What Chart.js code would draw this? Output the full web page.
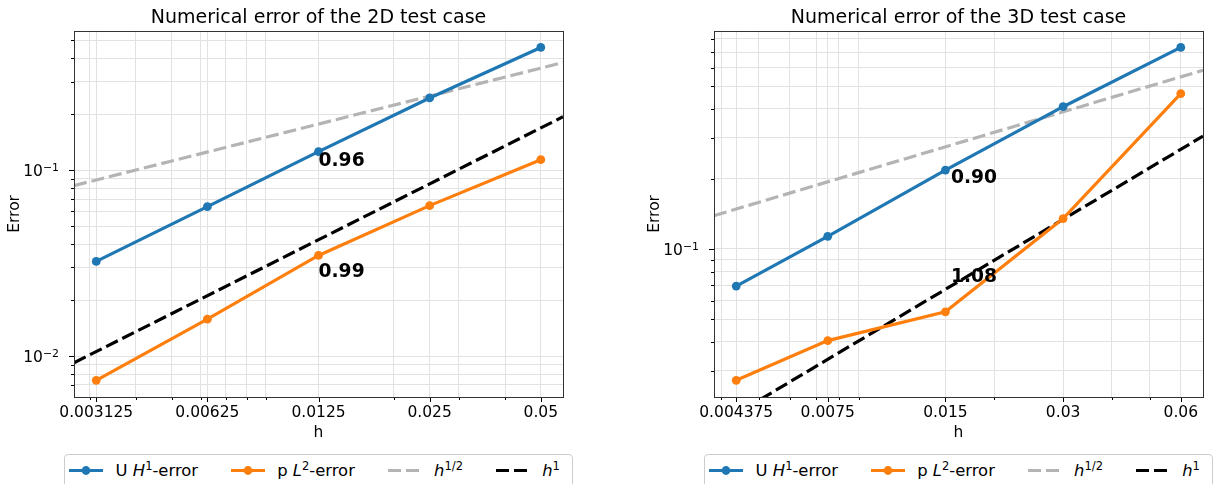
<!DOCTYPE html>
<html>
<head>
<meta charset="utf-8">
<script src="https://cdn.jsdelivr.net/npm/chart.js@4.4.0/dist/chart.umd.min.js"></script>
<style>
  body { margin: 0; background: #fff; font-family: 'DejaVu Sans', sans-serif; }
  #page { position: relative; width: 1214px; height: 484px; overflow: hidden; }
  .plot { position: absolute; top: 0; }
  .legend {
    position: absolute; top: 454px; width: 509px; height: 44px;
    box-sizing: border-box; border: 1px solid #cccccc; border-radius: 4px;
    padding: 6px 0 0 4px; display: flex; align-items: flex-start;
    font-size: 16.4px; line-height: 19px; color: #000; background: #fff;
  }
  .item { display: flex; align-items: center; margin-right: 32.6px; white-space: nowrap; }
  .item svg { width: 34px; height: 19px; margin-right: 12.6px; }
  .item sup { font-size: 0.7em; line-height: 0; vertical-align: 0.5em; font-style: normal; }
</style>
</head>
<body>
<div id="page">
  <div class="plot" style="left:0px"><canvas id="chart2d" width="607" height="445"></canvas></div>
  <div class="plot" style="left:607px"><canvas id="chart3d" width="607" height="445"></canvas></div>

  <div class="legend" style="left:64px">
    <div class="item"><svg viewBox="0 0 34 19"><line x1="0" y1="9.5" x2="34" y2="9.5" stroke="#1f77b4" stroke-width="3.2"/><circle cx="17" cy="9.5" r="4.4" fill="#1f77b4"/></svg><span>U <i>H</i><sup>1</sup>-error</span></div>
    <div class="item"><svg viewBox="0 0 34 19"><line x1="0" y1="9.5" x2="34" y2="9.5" stroke="#ff7f0e" stroke-width="3.2"/><circle cx="17" cy="9.5" r="4.4" fill="#ff7f0e"/></svg><span>p <i>L</i><sup>2</sup>-error</span></div>
    <div class="item"><svg viewBox="0 0 34 19"><line x1="0" y1="9.5" x2="34" y2="9.5" stroke="#b4b4b4" stroke-width="3.2" stroke-dasharray="13 5"/></svg><span><i>h</i><sup>1/2</sup></span></div>
    <div class="item"><svg viewBox="0 0 34 19"><line x1="0" y1="9.5" x2="34" y2="9.5" stroke="#000" stroke-width="3.2" stroke-dasharray="13 5"/></svg><span><i>h</i><sup>1</sup></span></div>
  </div>
  <div class="legend" style="left:704px">
    <div class="item"><svg viewBox="0 0 34 19"><line x1="0" y1="9.5" x2="34" y2="9.5" stroke="#1f77b4" stroke-width="3.2"/><circle cx="17" cy="9.5" r="4.4" fill="#1f77b4"/></svg><span>U <i>H</i><sup>1</sup>-error</span></div>
    <div class="item"><svg viewBox="0 0 34 19"><line x1="0" y1="9.5" x2="34" y2="9.5" stroke="#ff7f0e" stroke-width="3.2"/><circle cx="17" cy="9.5" r="4.4" fill="#ff7f0e"/></svg><span>p <i>L</i><sup>2</sup>-error</span></div>
    <div class="item"><svg viewBox="0 0 34 19"><line x1="0" y1="9.5" x2="34" y2="9.5" stroke="#b4b4b4" stroke-width="3.2" stroke-dasharray="13 5"/></svg><span><i>h</i><sup>1/2</sup></span></div>
    <div class="item"><svg viewBox="0 0 34 19"><line x1="0" y1="9.5" x2="34" y2="9.5" stroke="#000" stroke-width="3.2" stroke-dasharray="13 5"/></svg><span><i>h</i><sup>1</sup></span></div>
  </div>
</div>

<script>
// 2D test case
const h2D = [0.003125, 0.00625, 0.0125, 0.025, 0.05];
const hLabels2D = ['0.003125', '0.00625', '0.0125', '0.025', '0.05'];
const uErr2D = [0.0323, 0.0637, 0.126, 0.245, 0.458];
const pErr2D = [0.0074, 0.0158, 0.0348, 0.0645, 0.114];
const refH2D = [0.00272, 0.05743];
const halfRef2D = [0.0827, 0.380];
const oneRef2D = [0.0092, 0.194];
const rateText2D = ['0.96', '0.99'];
const rateH2D = [0.0125, 0.0125];
const rateErr2D = [0.112, 0.0283];
const xMinor2D = [0.003, 0.004, 0.005, 0.006, 0.007, 0.008, 0.009, 0.02, 0.03, 0.04];
const yMajor2D = [0.01, 0.1];
const yExp2D = ['\u22122', '\u22121'];
const yMinor2D = [0.007, 0.008, 0.009, 0.02, 0.03, 0.04, 0.05, 0.06, 0.07, 0.08, 0.09, 0.2, 0.3, 0.4, 0.5];
const yRange2D = [0.00602, 0.563];

// 3D test case
const h3D = [0.004375, 0.0075, 0.015, 0.03, 0.06];
const hLabels3D = ['0.004375', '0.0075', '0.015', '0.03', '0.06'];
const uErr3D = [0.0693, 0.1133, 0.218, 0.408, 0.733];
const pErr3D = [0.0273, 0.0404, 0.0537, 0.135, 0.464];
const refH3D = [0.003838, 0.06839];
const halfRef3D = [0.139, 0.585];
const oneRef3D = [0.0172, 0.305];
const rateText3D = ['0.90', '1.08'];
const rateH3D = [0.0155, 0.0155];
const rateErr3D = [0.2013, 0.0753];
const xMinor3D = [0.004, 0.005, 0.006, 0.007, 0.008, 0.009, 0.02, 0.04, 0.05];
const yMajor3D = [0.1];
const yExp3D = ['\u22121'];
const yMinor3D = [0.03, 0.04, 0.05, 0.06, 0.07, 0.08, 0.09, 0.2, 0.3, 0.4, 0.5, 0.6, 0.7, 0.8];
const yRange3D = [0.02314, 0.864];

Chart.defaults.font.family = "'DejaVu Sans'";
Chart.defaults.color = '#000';

const gridColor = '#e2e2e2';

// bold convergence rates next to the points
const rateLabels = {
  id: 'rateLabels',
  afterDatasetsDraw(chart, args, opts) {
    const { ctx, scales: { x, y } } = chart;
    ctx.save();
    ctx.font = 'bold 18.7px "DejaVu Sans"';
    ctx.fillStyle = '#000';
    ctx.textAlign = 'left';
    ctx.textBaseline = 'middle';
    opts.text.forEach((t, i) => {
      ctx.fillText(t, x.getPixelForValue(opts.h[i]), y.getPixelForValue(opts.err[i]));
    });
    ctx.restore();
  }
};

// axes box, major/minor tick marks and 10^k labels (matplotlib style)
const axesFrame = {
  id: 'axesFrame',
  afterDraw(chart, args, opts) {
    const { ctx, chartArea: a, scales: { x, y } } = chart;
    ctx.save();
    ctx.strokeStyle = '#000';
    ctx.lineWidth = 1;
    ctx.beginPath();
    x.ticks.forEach(t => {
      const px = Math.round(x.getPixelForValue(t.value)) + 0.5;
      ctx.moveTo(px, a.bottom);
      ctx.lineTo(px, a.bottom + (t.major ? 5 : 3));
    });
    y.ticks.forEach(t => {
      const py = Math.round(y.getPixelForValue(t.value)) + 0.5;
      ctx.moveTo(a.left, py);
      ctx.lineTo(a.left - (t.major ? 5 : 3), py);
    });
    ctx.stroke();
    ctx.strokeStyle = '#333';
    ctx.strokeRect(Math.round(a.left) + 0.5, Math.round(a.top) + 0.5,
      Math.round(a.right - a.left), Math.round(a.bottom - a.top));

    // y labels as 10 with a raised exponent
    ctx.fillStyle = '#000';
    ctx.textBaseline = 'alphabetic';
    ctx.textAlign = 'left';
    opts.majors.forEach((v, i) => {
      const py = y.getPixelForValue(v);
      const base = py + 5.6;
      ctx.font = '15.5px "DejaVu Sans"';
      const w10 = ctx.measureText('10').width;
      ctx.font = '10.9px "DejaVu Sans"';
      const wExp = ctx.measureText(opts.exps[i]).width;
      const x0 = a.left - 15 - w10 - wExp;
      ctx.font = '15.5px "DejaVu Sans"';
      ctx.fillText('10', x0, base);
      ctx.font = '10.9px "DejaVu Sans"';
      ctx.fillText(opts.exps[i], x0 + w10, base - 5);
    });
    ctx.restore();
  }
};

function points(xs, ys) {
  return xs.map((v, i) => ({ x: v, y: ys[i] }));
}

function tickList(majors, minors) {
  return majors.map(v => ({ value: v, major: true }))
    .concat(minors.map(v => ({ value: v, major: false })))
    .sort((a, b) => a.value - b.value);
}

function labelFor(value, majors, labels) {
  const i = majors.findIndex(m => Math.abs(m - value) / m < 1e-6);
  return i >= 0 ? labels[i] : '';
}

function makeChart(id, d) {
  return new Chart(document.getElementById(id), {
    type: 'line',
    data: {
      datasets: [
        { data: points(d.h, d.u), borderColor: '#1f77b4', backgroundColor: '#1f77b4',
          borderWidth: 3.2, pointRadius: 4.4, pointBorderWidth: 0, pointBackgroundColor: '#1f77b4' },
        { data: points(d.h, d.p), borderColor: '#ff7f0e', backgroundColor: '#ff7f0e',
          borderWidth: 3.2, pointRadius: 4.4, pointBorderWidth: 0, pointBackgroundColor: '#ff7f0e' },
        { data: points(d.refH, d.half), borderColor: '#b4b4b4', borderWidth: 3.2,
          borderDash: [13, 5], pointRadius: 0 },
        { data: points(d.refH, d.one), borderColor: '#000', borderWidth: 3.2,
          borderDash: [13, 5], pointRadius: 0 }
      ]
    },
    options: {
      responsive: false,
      animation: false,
      events: [],
      layout: { padding: { left: 0, right: d.padRight, top: 0, bottom: 0 } },
      plugins: {
        legend: { display: false },
        tooltip: { enabled: false },
        title: {
          display: true, text: d.title, fullSize: false,
          font: { size: 19, weight: 'normal' }, color: '#000',
          padding: { top: 7, bottom: 1 }
        },
        rateLabels: { text: d.rateText, h: d.rateH, err: d.rateErr },
        axesFrame: { majors: d.yMajor, exps: d.yExp }
      },
      scales: {
        x: {
          type: 'logarithmic', bounds: 'data',
          min: d.refH[0], max: d.refH[1],
          afterBuildTicks: s => { s.ticks = tickList(d.h, d.xMinor); },
          afterFit: s => { s.height = 48; },
          ticks: {
            autoSkip: false, maxRotation: 0, padding: 6.5,
            font: { size: 15.5 }, color: '#000',
            callback: v => labelFor(v, d.h, d.hLabels)
          },
          grid: { color: gridColor, lineWidth: 1, drawTicks: false },
          border: { display: false },
          title: { display: true, text: 'h', font: { size: 15.5 }, color: '#000',
            padding: { top: 0, bottom: 2.7 } }
        },
        y: {
          type: 'logarithmic', bounds: 'data',
          min: d.yRange[0], max: d.yRange[1],
          afterBuildTicks: s => { s.ticks = tickList(d.yMajor, d.yMinor); },
          afterFit: s => { s.width = d.yWidth; },
          ticks: { autoSkip: false, padding: 15, callback: () => '' },
          grid: { color: gridColor, lineWidth: 1, drawTicks: false },
          border: { display: false },
          title: { display: true, text: 'Error', font: { size: 15.5 }, color: '#000',
            padding: { top: d.yTitlePad, bottom: 0 } }
        }
      }
    },
    plugins: [rateLabels, axesFrame]
  });
}

makeChart('chart2d', {
  title: 'Numerical error of the 2D test case',
  h: h2D, hLabels: hLabels2D, u: uErr2D, p: pErr2D,
  refH: refH2D, half: halfRef2D, one: oneRef2D,
  rateText: rateText2D, rateH: rateH2D, rateErr: rateErr2D,
  xMinor: xMinor2D, yMajor: yMajor2D, yExp: yExp2D, yMinor: yMinor2D, yRange: yRange2D,
  yWidth: 74, yTitlePad: 5.7, padRight: 44
});

makeChart('chart3d', {
  title: 'Numerical error of the 3D test case',
  h: h3D, hLabels: hLabels3D, u: uErr3D, p: pErr3D,
  refH: refH3D, half: halfRef3D, one: oneRef3D,
  rateText: rateText3D, rateH: rateH3D, rateErr: rateErr3D,
  xMinor: xMinor3D, yMajor: yMajor3D, yExp: yExp3D, yMinor: yMinor3D, yRange: yRange3D,
  yWidth: 107, yTitlePad: 38.7, padRight: 11
});
</script>
</body>
</html>
